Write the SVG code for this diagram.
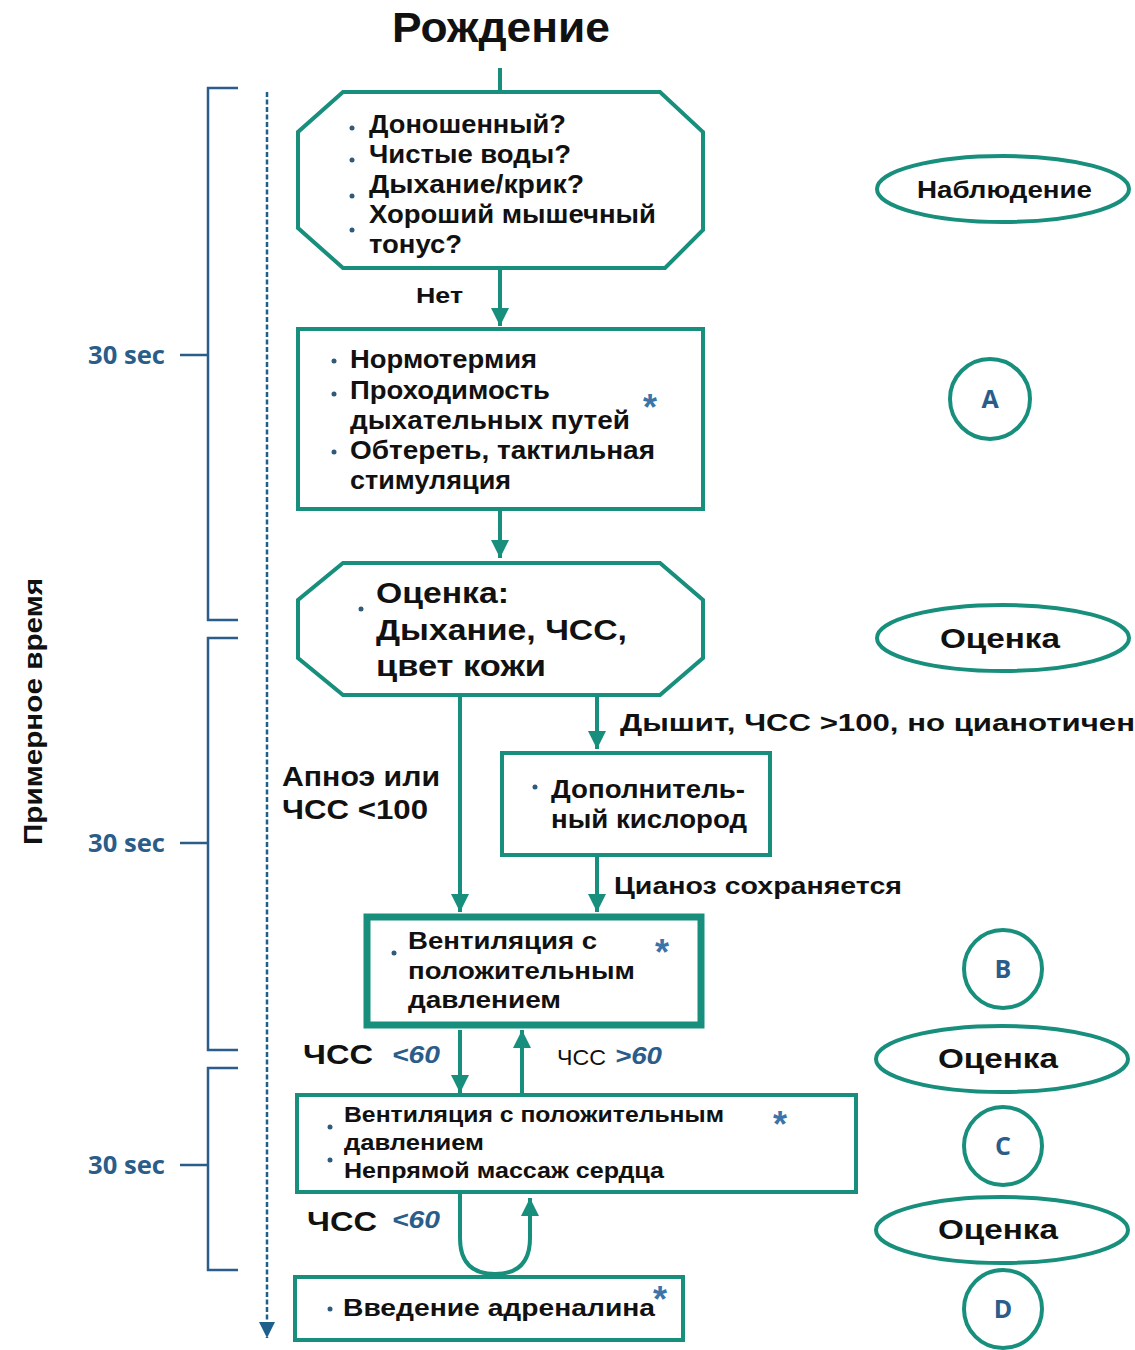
<svg xmlns="http://www.w3.org/2000/svg" width="1135" height="1350" viewBox="0 0 1135 1350">
<defs>
<marker id="ah" markerUnits="userSpaceOnUse" markerWidth="18" markerHeight="18" refX="16" refY="8" orient="auto" viewBox="0 0 16 16">
<path d="M0,0 L16,8 L0,16 z" fill="#178f7c"/>
</marker>
<marker id="ahb" markerUnits="userSpaceOnUse" markerWidth="16" markerHeight="16" refX="14" refY="7" orient="auto" viewBox="0 0 14 14">
<path d="M0,0 L14,7 L0,14 z" fill="#1f5f8b"/>
</marker>
<style>
.sh{fill:#fff;stroke:#178f7c;stroke-width:4}
.thick{stroke-width:7}
.cn{fill:none;stroke:#178f7c;stroke-width:4}
.t{font-family:"Liberation Sans",Arial,sans-serif;font-weight:bold;fill:#111}
.n{font-weight:normal}
.bl{fill:#2a5d8a}
.sec{font-family:"Open Sans","Liberation Sans",sans-serif;font-weight:bold;fill:#2a5d8a;font-size:25px}
.ast{font-family:"Liberation Sans",sans-serif;font-weight:bold;fill:#3a74a8;font-size:36px}
.dot{fill:#2f5a7a}
.br{fill:none;stroke:#2a5d8a;stroke-width:2.5}
</style>
</defs>
<rect width="1135" height="1350" fill="#fff"/>

<text class="t" x="392" y="42" font-size="42" textLength="218" lengthAdjust="spacingAndGlyphs">Рождение</text>

<g id="timeline">
<line x1="267" y1="92" x2="267" y2="1338" stroke="#1f5f8b" stroke-width="2.5" stroke-dasharray="5,2.5" marker-end="url(#ahb)"/>
<path class="br" d="M238,88 H208 V620 H238 M180,355 H208"/>
<path class="br" d="M238,638 H208 V1050 H238 M180,843 H208"/>
<path class="br" d="M238,1068 H208 V1270 H238 M180,1165 H208"/>
<text class="sec" x="88" y="364" textLength="77" lengthAdjust="spacingAndGlyphs">30 sec</text>
<text class="sec" x="88" y="852" textLength="77" lengthAdjust="spacingAndGlyphs">30 sec</text>
<text class="sec" x="88" y="1174" textLength="77" lengthAdjust="spacingAndGlyphs">30 sec</text>
<text class="t" font-size="26" transform="translate(42,845) rotate(-90)" textLength="267" lengthAdjust="spacingAndGlyphs">Примерное время</text>
</g>

<g id="connectors">
<line class="cn" x1="500" y1="68" x2="500" y2="92"/>
<line class="cn" x1="500" y1="268" x2="500" y2="326" marker-end="url(#ah)"/>
<line class="cn" x1="500" y1="509" x2="500" y2="558" marker-end="url(#ah)"/>
<line class="cn" x1="460" y1="695" x2="460" y2="912" marker-end="url(#ah)"/>
<line class="cn" x1="597" y1="695" x2="597" y2="749" marker-end="url(#ah)"/>
<line class="cn" x1="597" y1="857" x2="597" y2="912" marker-end="url(#ah)"/>
<line class="cn" x1="460" y1="1030" x2="460" y2="1093" marker-end="url(#ah)"/>
<line class="cn" x1="522" y1="1095" x2="522" y2="1030" marker-end="url(#ah)"/>
<path class="cn" d="M460,1192 V1238 Q460,1274 495,1274 Q530,1274 530,1238 V1198" marker-end="url(#ah)"/>
<text class="t" x="416" y="303" font-size="22" textLength="47" lengthAdjust="spacingAndGlyphs">Нет</text>
<text class="t" x="620" y="731" font-size="24" textLength="515" lengthAdjust="spacingAndGlyphs">Дышит, ЧСС &gt;100, но цианотичен</text>
<text class="t" x="282" y="786" font-size="27" textLength="158" lengthAdjust="spacingAndGlyphs">Апноэ или</text>
<text class="t" x="282" y="819" font-size="27" textLength="146" lengthAdjust="spacingAndGlyphs">ЧСС &lt;100</text>
<text class="t" x="614" y="894" font-size="23" textLength="288" lengthAdjust="spacingAndGlyphs">Цианоз сохраняется</text>
<text class="t" x="303" y="1064" font-size="28" textLength="70" lengthAdjust="spacingAndGlyphs">ЧСС</text>
<text class="t bl" x="392" y="1063" font-size="23" font-style="italic" textLength="48" lengthAdjust="spacingAndGlyphs">&lt;60</text>
<text class="t n" x="557" y="1065" font-size="22" textLength="49" lengthAdjust="spacingAndGlyphs">ЧСС</text>
<text class="t bl" x="615" y="1064" font-size="23" font-style="italic" textLength="47" lengthAdjust="spacingAndGlyphs">&gt;60</text>
<text class="t" x="307" y="1231" font-size="28" textLength="70" lengthAdjust="spacingAndGlyphs">ЧСС</text>
<text class="t bl" x="392" y="1228" font-size="23" font-style="italic" textLength="48" lengthAdjust="spacingAndGlyphs">&lt;60</text>
</g>

<g id="node-check">
<polygon class="sh" points="343,92 660,92 703,132 703,230 665,268 343,268 298,228 298,132"/>
<circle class="dot" cx="352" cy="128" r="2.5"/>
<circle class="dot" cx="352" cy="160" r="2.5"/>
<circle class="dot" cx="352" cy="196" r="2.5"/>
<circle class="dot" cx="352" cy="230" r="2.5"/>
<text class="t" font-size="25" x="369" y="133" textLength="197" lengthAdjust="spacingAndGlyphs">Доношенный?</text>
<text class="t" font-size="25" x="369" y="163" textLength="202" lengthAdjust="spacingAndGlyphs">Чистые воды?</text>
<text class="t" font-size="25" x="369" y="193" textLength="215" lengthAdjust="spacingAndGlyphs">Дыхание/крик?</text>
<text class="t" font-size="25" x="369" y="223" textLength="287" lengthAdjust="spacingAndGlyphs">Хороший мышечный</text>
<text class="t" font-size="25" x="369" y="253" textLength="93" lengthAdjust="spacingAndGlyphs">тонус?</text>
</g>

<g id="node-initial">
<rect class="sh" x="298" y="329" width="405" height="180"/>
<circle class="dot" cx="334" cy="361" r="2.5"/>
<circle class="dot" cx="334" cy="394" r="2.5"/>
<circle class="dot" cx="334" cy="452" r="2.5"/>
<text class="t" font-size="25" x="350" y="368" textLength="187" lengthAdjust="spacingAndGlyphs">Нормотермия</text>
<text class="t" font-size="25" x="350" y="399" textLength="200" lengthAdjust="spacingAndGlyphs">Проходимость</text>
<text class="t" font-size="25" x="350" y="429" textLength="280" lengthAdjust="spacingAndGlyphs">дыхательных путей</text>
<text class="t" font-size="25" x="350" y="459" textLength="305" lengthAdjust="spacingAndGlyphs">Обтереть, тактильная</text>
<text class="t" font-size="25" x="350" y="489" textLength="161" lengthAdjust="spacingAndGlyphs">стимуляция</text>
<text class="ast" x="643" y="420">*</text>
</g>

<g id="node-assess">
<polygon class="sh" points="343,563 660,563 703,600 703,658 660,695 343,695 298,658 298,600"/>
<circle class="dot" cx="361" cy="609" r="2.5"/>
<text class="t" font-size="29" x="376" y="603" textLength="133" lengthAdjust="spacingAndGlyphs">Оценка:</text>
<text class="t" font-size="29" x="376" y="640" textLength="251" lengthAdjust="spacingAndGlyphs">Дыхание, ЧСС,</text>
<text class="t" font-size="29" x="376" y="676" textLength="170" lengthAdjust="spacingAndGlyphs">цвет кожи</text>
</g>

<g id="node-oxygen">
<rect class="sh" x="502" y="753" width="268" height="102"/>
<circle class="dot" cx="535" cy="787" r="2.5"/>
<text class="t" font-size="25" x="551" y="798" textLength="194" lengthAdjust="spacingAndGlyphs">Дополнитель-</text>
<text class="t" font-size="25" x="551" y="828" textLength="196" lengthAdjust="spacingAndGlyphs">ный кислород</text>
</g>

<g id="node-ppv">
<rect class="sh thick" x="367" y="917" width="334" height="108"/>
<circle class="dot" cx="394" cy="953" r="2.5"/>
<text class="t" font-size="24" x="408" y="949" textLength="189" lengthAdjust="spacingAndGlyphs">Вентиляция с</text>
<text class="t" font-size="24" x="408" y="979" textLength="227" lengthAdjust="spacingAndGlyphs">положительным</text>
<text class="t" font-size="24" x="408" y="1008" textLength="153" lengthAdjust="spacingAndGlyphs">давлением</text>
<text class="ast" x="655" y="965">*</text>
</g>

<g id="node-cpr">
<rect class="sh" x="297" y="1095" width="559" height="97"/>
<circle class="dot" cx="330" cy="1127" r="2.5"/>
<circle class="dot" cx="330" cy="1160" r="2.5"/>
<text class="t" font-size="22" x="344" y="1122" textLength="380" lengthAdjust="spacingAndGlyphs">Вентиляция с положительным</text>
<text class="t" font-size="22" x="344" y="1150" textLength="140" lengthAdjust="spacingAndGlyphs">давлением</text>
<text class="t" font-size="22" x="344" y="1178" textLength="320" lengthAdjust="spacingAndGlyphs">Непрямой массаж сердца</text>
<text class="ast" x="773" y="1137">*</text>
</g>

<g id="node-epi">
<rect class="sh" x="295" y="1277" width="388" height="63"/>
<circle class="dot" cx="330" cy="1309" r="2.5"/>
<text class="t" x="343" y="1316" font-size="24" textLength="312" lengthAdjust="spacingAndGlyphs">Введение адреналина</text>
<text class="ast" x="653" y="1312">*</text>
</g>

<g id="label-observe">
<ellipse class="sh" cx="1003" cy="189" rx="126" ry="33"/>
<text class="t" x="917" y="198" font-size="23" textLength="175" lengthAdjust="spacingAndGlyphs">Наблюдение</text>
</g>
<g id="label-A">
<circle class="sh" cx="990" cy="399" r="40"/>
<text class="sec" x="990" y="408" text-anchor="middle">A</text>
</g>
<g id="label-assess1">
<ellipse class="sh" cx="1003" cy="638" rx="126" ry="33"/>
<text class="t" x="940" y="648" font-size="28" textLength="120" lengthAdjust="spacingAndGlyphs">Оценка</text>
</g>
<g id="label-B">
<circle class="sh" cx="1003" cy="969" r="39"/>
<text class="sec" x="1003" y="978" text-anchor="middle">B</text>
</g>
<g id="label-assess2">
<ellipse class="sh" cx="1002" cy="1059" rx="126" ry="33"/>
<text class="t" x="938" y="1068" font-size="28" textLength="120" lengthAdjust="spacingAndGlyphs">Оценка</text>
</g>
<g id="label-C">
<circle class="sh" cx="1003" cy="1146" r="39"/>
<text class="sec" x="1003" y="1155" text-anchor="middle">C</text>
</g>
<g id="label-assess3">
<ellipse class="sh" cx="1002" cy="1230" rx="126" ry="33"/>
<text class="t" x="938" y="1239" font-size="28" textLength="120" lengthAdjust="spacingAndGlyphs">Оценка</text>
</g>
<g id="label-D">
<circle class="sh" cx="1003" cy="1309" r="39"/>
<text class="sec" x="1003" y="1318" text-anchor="middle">D</text>
</g>
</svg>
